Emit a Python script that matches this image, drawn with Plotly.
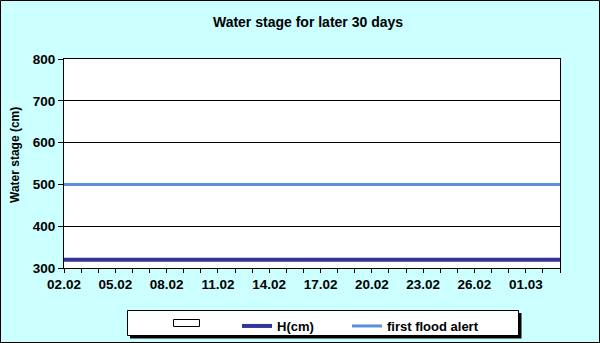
import plotly.graph_objects as go
import pandas as pd

# ---- data ----
dates = pd.date_range("2015-02-02", "2015-03-03", freq="D")
water_stage_cm = [320] * len(dates)
first_flood_alert_cm = [500] * len(dates)
title_text = "Water stage for later 30 days"
y_title = "Water stage (cm)"
legend_names = ["H(cm)", "first flood alert"]

W, H = 600, 343
L, R, T, B = 64, 40, 59, 75
pw, ph = W - L - R, H - T - B

def px(x):
    return (x - L) / pw

def py(y):
    return (H - B - y) / ph

font = "Liberation Sans, Arial, sans-serif"

fig = go.Figure()
fig.add_trace(go.Scatter(x=dates, y=water_stage_cm, mode="lines", name=legend_names[0],
                         line=dict(color="#333399", width=4), legend="legend"))
fig.add_trace(go.Scatter(x=dates, y=first_flood_alert_cm, mode="lines", name=legend_names[1],
                         line=dict(color="#5B8EDC", width=3), legend="legend2"))

shapes = [
    # legend shadow
    dict(type="rect", xref="paper", yref="paper", layer="above",
         x0=px(130), x1=px(521.5), y0=py(338.5), y1=py(313),
         fillcolor="black", line=dict(width=0)),
    # legend box
    dict(type="rect", xref="paper", yref="paper", layer="above",
         x0=px(127.5), x1=px(518.5), y0=py(335.5), y1=py(310.5),
         fillcolor="white", line=dict(color="black", width=1)),
    # blank legend symbol (empty series)
    dict(type="rect", xref="paper", yref="paper", layer="above",
         x0=px(173.5), x1=px(199.5), y0=py(326.5), y1=py(319.5),
         fillcolor="white", line=dict(color="black", width=1)),
    # chart border
    dict(type="rect", xref="paper", yref="paper", layer="above",
         x0=px(0.5), x1=px(599.5), y0=py(342.5), y1=py(0.5),
         fillcolor="rgba(0,0,0,0)", line=dict(color="black", width=1)),
]

annotations = [
    dict(text="<b>" + y_title + "</b>", xref="paper", yref="paper",
         x=px(15), y=py(155), xanchor="center", yanchor="middle",
         textangle=-90, showarrow=False,
         font=dict(size=12, family=font, color="black")),
]

legfont = dict(size=13, family=font, color="black", weight="bold")
fig.update_layout(
    width=W, height=H,
    margin=dict(l=L, r=R, t=T, b=B),
    paper_bgcolor="#CCFFFF",
    plot_bgcolor="white",
    font=dict(family=font, size=13, color="black"),
    title=dict(text="<b>" + title_text + "</b>", x=308 / W, xref="container",
               xanchor="center", y=1 - 22 / H, yref="container", yanchor="middle",
               font=dict(size=14, family=font, color="black")),
    showlegend=True,
    legend=dict(orientation="h", xref="container", yref="container",
                x=237 / W, xanchor="left", y=1 - 311 / H, yanchor="top",
                bgcolor="rgba(0,0,0,0)", borderwidth=0, font=legfont),
    legend2=dict(orientation="h", xref="container", yref="container",
                 x=347 / W, xanchor="left", y=1 - 311 / H, yanchor="top",
                 bgcolor="rgba(0,0,0,0)", borderwidth=0, font=legfont),
    shapes=shapes,
    annotations=annotations,
)

tickfont = dict(size=13.5, family=font, color="black", weight="bold")
fig.update_xaxes(
    type="date",
    range=[dates[0], dates[-1]],
    tick0=dates[0], dtick=3 * 86400000, tickformat="%d.%m",
    ticks="outside", ticklen=4, tickcolor="black", tickwidth=1,
    minor=dict(dtick=86400000, ticks="outside", ticklen=4, tickcolor="black", showgrid=False),
    showline=True, linecolor="black", linewidth=1, mirror=True,
    showgrid=False, zeroline=False,
    tickfont=tickfont,
)
fig.update_yaxes(
    range=[300, 800], dtick=100, tick0=300,
    ticks="outside", ticklen=5, tickcolor="black",
    showline=True, linecolor="black", linewidth=1, mirror=True,
    showgrid=True, gridcolor="black", gridwidth=1, zeroline=False,
    tickfont=tickfont,
)

fig.write_html("out.html")
